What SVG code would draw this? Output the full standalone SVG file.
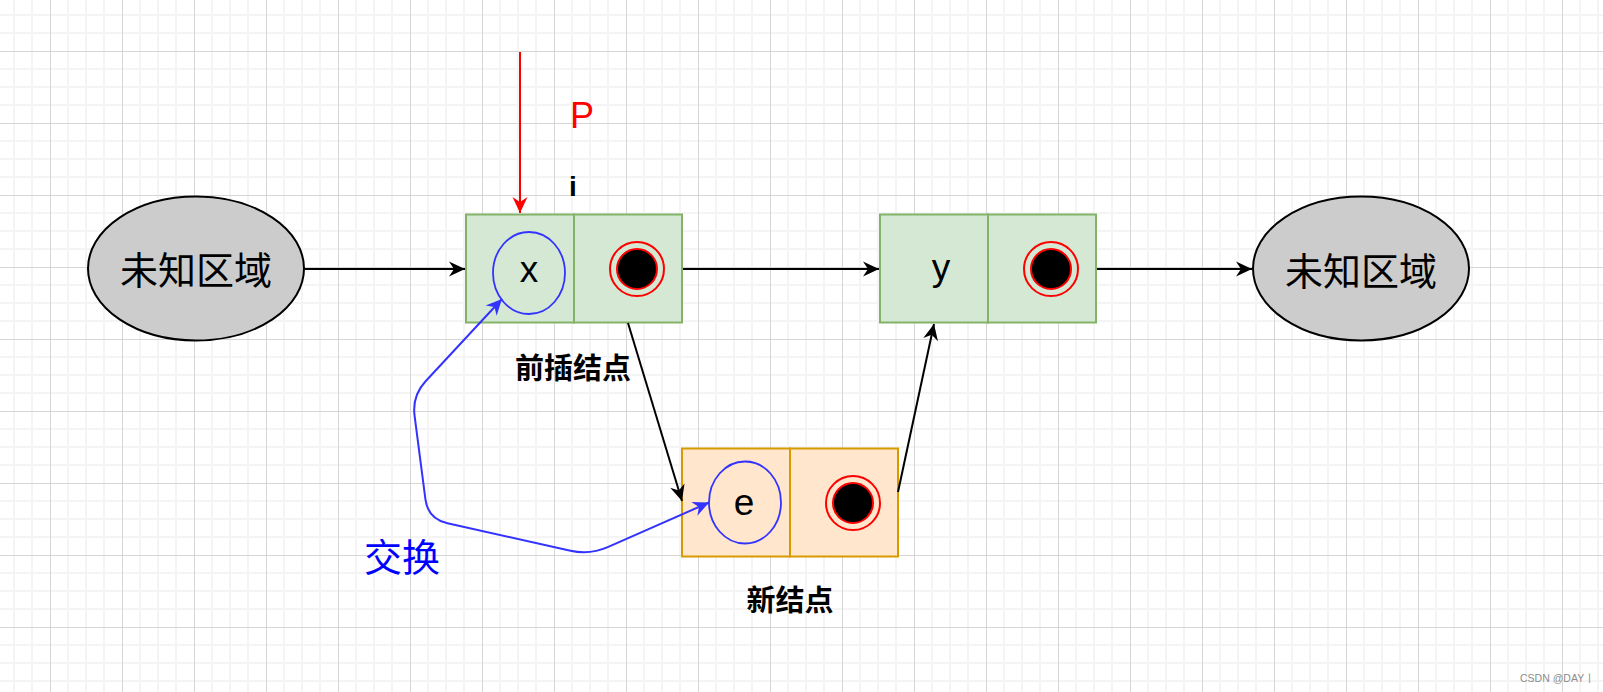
<svg xmlns="http://www.w3.org/2000/svg" width="1603" height="692" viewBox="0 0 1603 692">
<style>
.cell{fill:#d5e8d4;stroke:#82b366;stroke-width:2}
.cell2{fill:#ffe6cc;stroke:#d79b00;stroke-width:2}
.region{fill:#cccccc;stroke:#000;stroke-width:2}
.val{fill:none;stroke:#3333ff;stroke-width:1.8}
.ptr-o{fill:none;stroke:#ff0000;stroke-width:2}
.ptr-i{fill:#000;stroke:#ff0000;stroke-width:2}
.cjk{font-family:"Liberation Sans","Noto Sans CJK SC",sans-serif;text-anchor:middle}
.lat{font-family:"Liberation Sans",Arial,sans-serif;text-anchor:middle}
.conn{fill:none;stroke:#000;stroke-width:2}
</style>
<defs>
<pattern id="grid" x="-22" y="-21" width="72" height="72" patternUnits="userSpaceOnUse">
<rect x="17" y="0" width="2" height="72" fill="#f4f4f4"/>
<rect x="35" y="0" width="2" height="72" fill="#f4f4f4"/>
<rect x="53" y="0" width="2" height="72" fill="#f4f4f4"/>
<rect x="0" y="17" width="72" height="2" fill="#f4f4f4"/>
<rect x="0" y="35" width="72" height="2" fill="#f4f4f4"/>
<rect x="0" y="53" width="72" height="2" fill="#f4f4f4"/>
<rect x="0" y="0" width="1" height="72" fill="#d6d6d6"/>
<rect x="0" y="0" width="72" height="1" fill="#d6d6d6"/>
</pattern>
<marker id="ah" viewBox="-17 -9 18 18" refX="0" refY="0" markerWidth="18" markerHeight="18" markerUnits="userSpaceOnUse" orient="auto">
<path d="M0,0 L-16,-7.5 L-11,0 L-16,7.5 Z" fill="#000"/>
</marker>
<marker id="ahr" viewBox="-17 -9 18 18" refX="0" refY="0" markerWidth="18" markerHeight="18" markerUnits="userSpaceOnUse" orient="auto">
<path d="M0,0 L-16,-7.5 L-11,0 L-16,7.5 Z" fill="#ff0000"/>
</marker>
<marker id="ahb" viewBox="-17 -9 18 18" refX="0" refY="0" markerWidth="18" markerHeight="18" markerUnits="userSpaceOnUse" orient="auto-start-reverse">
<path d="M0,0 L-16,-7.5 L-11,0 L-16,7.5 Z" fill="#3333ff"/>
</marker>
</defs>
<rect width="1603" height="692" fill="#ffffff"/>
<rect width="1603" height="692" fill="url(#grid)"/>

<g id="region-left">
<ellipse class="region" cx="196" cy="268.5" rx="108" ry="72"/>
<text class="cjk" x="196" y="284" font-size="38" fill="#000">未知区域</text>
</g>

<g id="region-right">
<ellipse class="region" cx="1361" cy="268.5" rx="108" ry="72"/>
<text class="cjk" x="1361" y="285" font-size="38" fill="#000">未知区域</text>
</g>

<g id="node-x">
<rect class="cell" x="466" y="214.5" width="108" height="108"/>
<rect class="cell" x="574" y="214.5" width="108" height="108"/>
<ellipse class="val" cx="529" cy="273" rx="36" ry="41"/>
<text class="lat" x="529" y="282" font-size="37" fill="#000">x</text>
<circle class="ptr-o" cx="637" cy="269" r="27"/>
<circle class="ptr-i" cx="637" cy="269" r="20"/>
</g>

<g id="node-y">
<rect class="cell" x="880" y="214.5" width="108" height="108"/>
<rect class="cell" x="988" y="214.5" width="108" height="108"/>
<text class="lat" x="941" y="280" font-size="37" fill="#000">y</text>
<circle class="ptr-o" cx="1051" cy="269" r="27"/>
<circle class="ptr-i" cx="1051" cy="269" r="20"/>
</g>

<g id="node-e">
<rect class="cell2" x="682" y="448.5" width="108" height="108"/>
<rect class="cell2" x="790" y="448.5" width="108" height="108"/>
<ellipse class="val" cx="745" cy="502.5" rx="36" ry="41"/>
<text class="lat" x="744" y="515" font-size="37" fill="#000">e</text>
<circle class="ptr-o" cx="853" cy="503" r="27"/>
<circle class="ptr-i" cx="853" cy="503" r="20"/>
</g>

<g id="connectors">
<line class="conn" x1="305" y1="269" x2="465" y2="269" marker-end="url(#ah)"/>
<line class="conn" x1="683" y1="269" x2="879" y2="269" marker-end="url(#ah)"/>
<line class="conn" x1="1097" y1="269" x2="1252" y2="269" marker-end="url(#ah)"/>
<line class="conn" x1="628" y1="323" x2="682" y2="501" marker-end="url(#ah)"/>
<line class="conn" x1="898" y1="492" x2="934" y2="324" marker-end="url(#ah)"/>
<line x1="520" y1="52" x2="520" y2="213" stroke="#ff0000" stroke-width="2" marker-end="url(#ahr)"/>
<path d="M502,299 L425.6,381.3 Q412,396 414.6,415.8 L425.4,499.2 Q428,519 447.5,523.3 L570.5,550.7 Q590,555 608.3,546.9 L709,502.5" fill="none" stroke="#3333ff" stroke-width="2" marker-start="url(#ahb)" marker-end="url(#ahb)"/>
</g>

<g id="labels">
<text class="lat" x="582" y="128" font-size="36" fill="#ff0000">P</text>
<text class="lat" x="573" y="196" font-size="28" font-weight="bold" fill="#000">i</text>
<text class="cjk" x="573" y="379" font-size="29" font-weight="bold" fill="#000">前插结点</text>
<text class="cjk" x="790" y="611" font-size="29" font-weight="bold" fill="#000">新结点</text>
<text class="cjk" x="402" y="571" font-size="38" fill="#0000ff">交换</text>
<text x="1520" y="682" font-family="'Liberation Sans','Noto Sans CJK SC',sans-serif" font-size="10.5" fill="#8c8c8c">CSDN @DAY丨</text>
</g>
</svg>
